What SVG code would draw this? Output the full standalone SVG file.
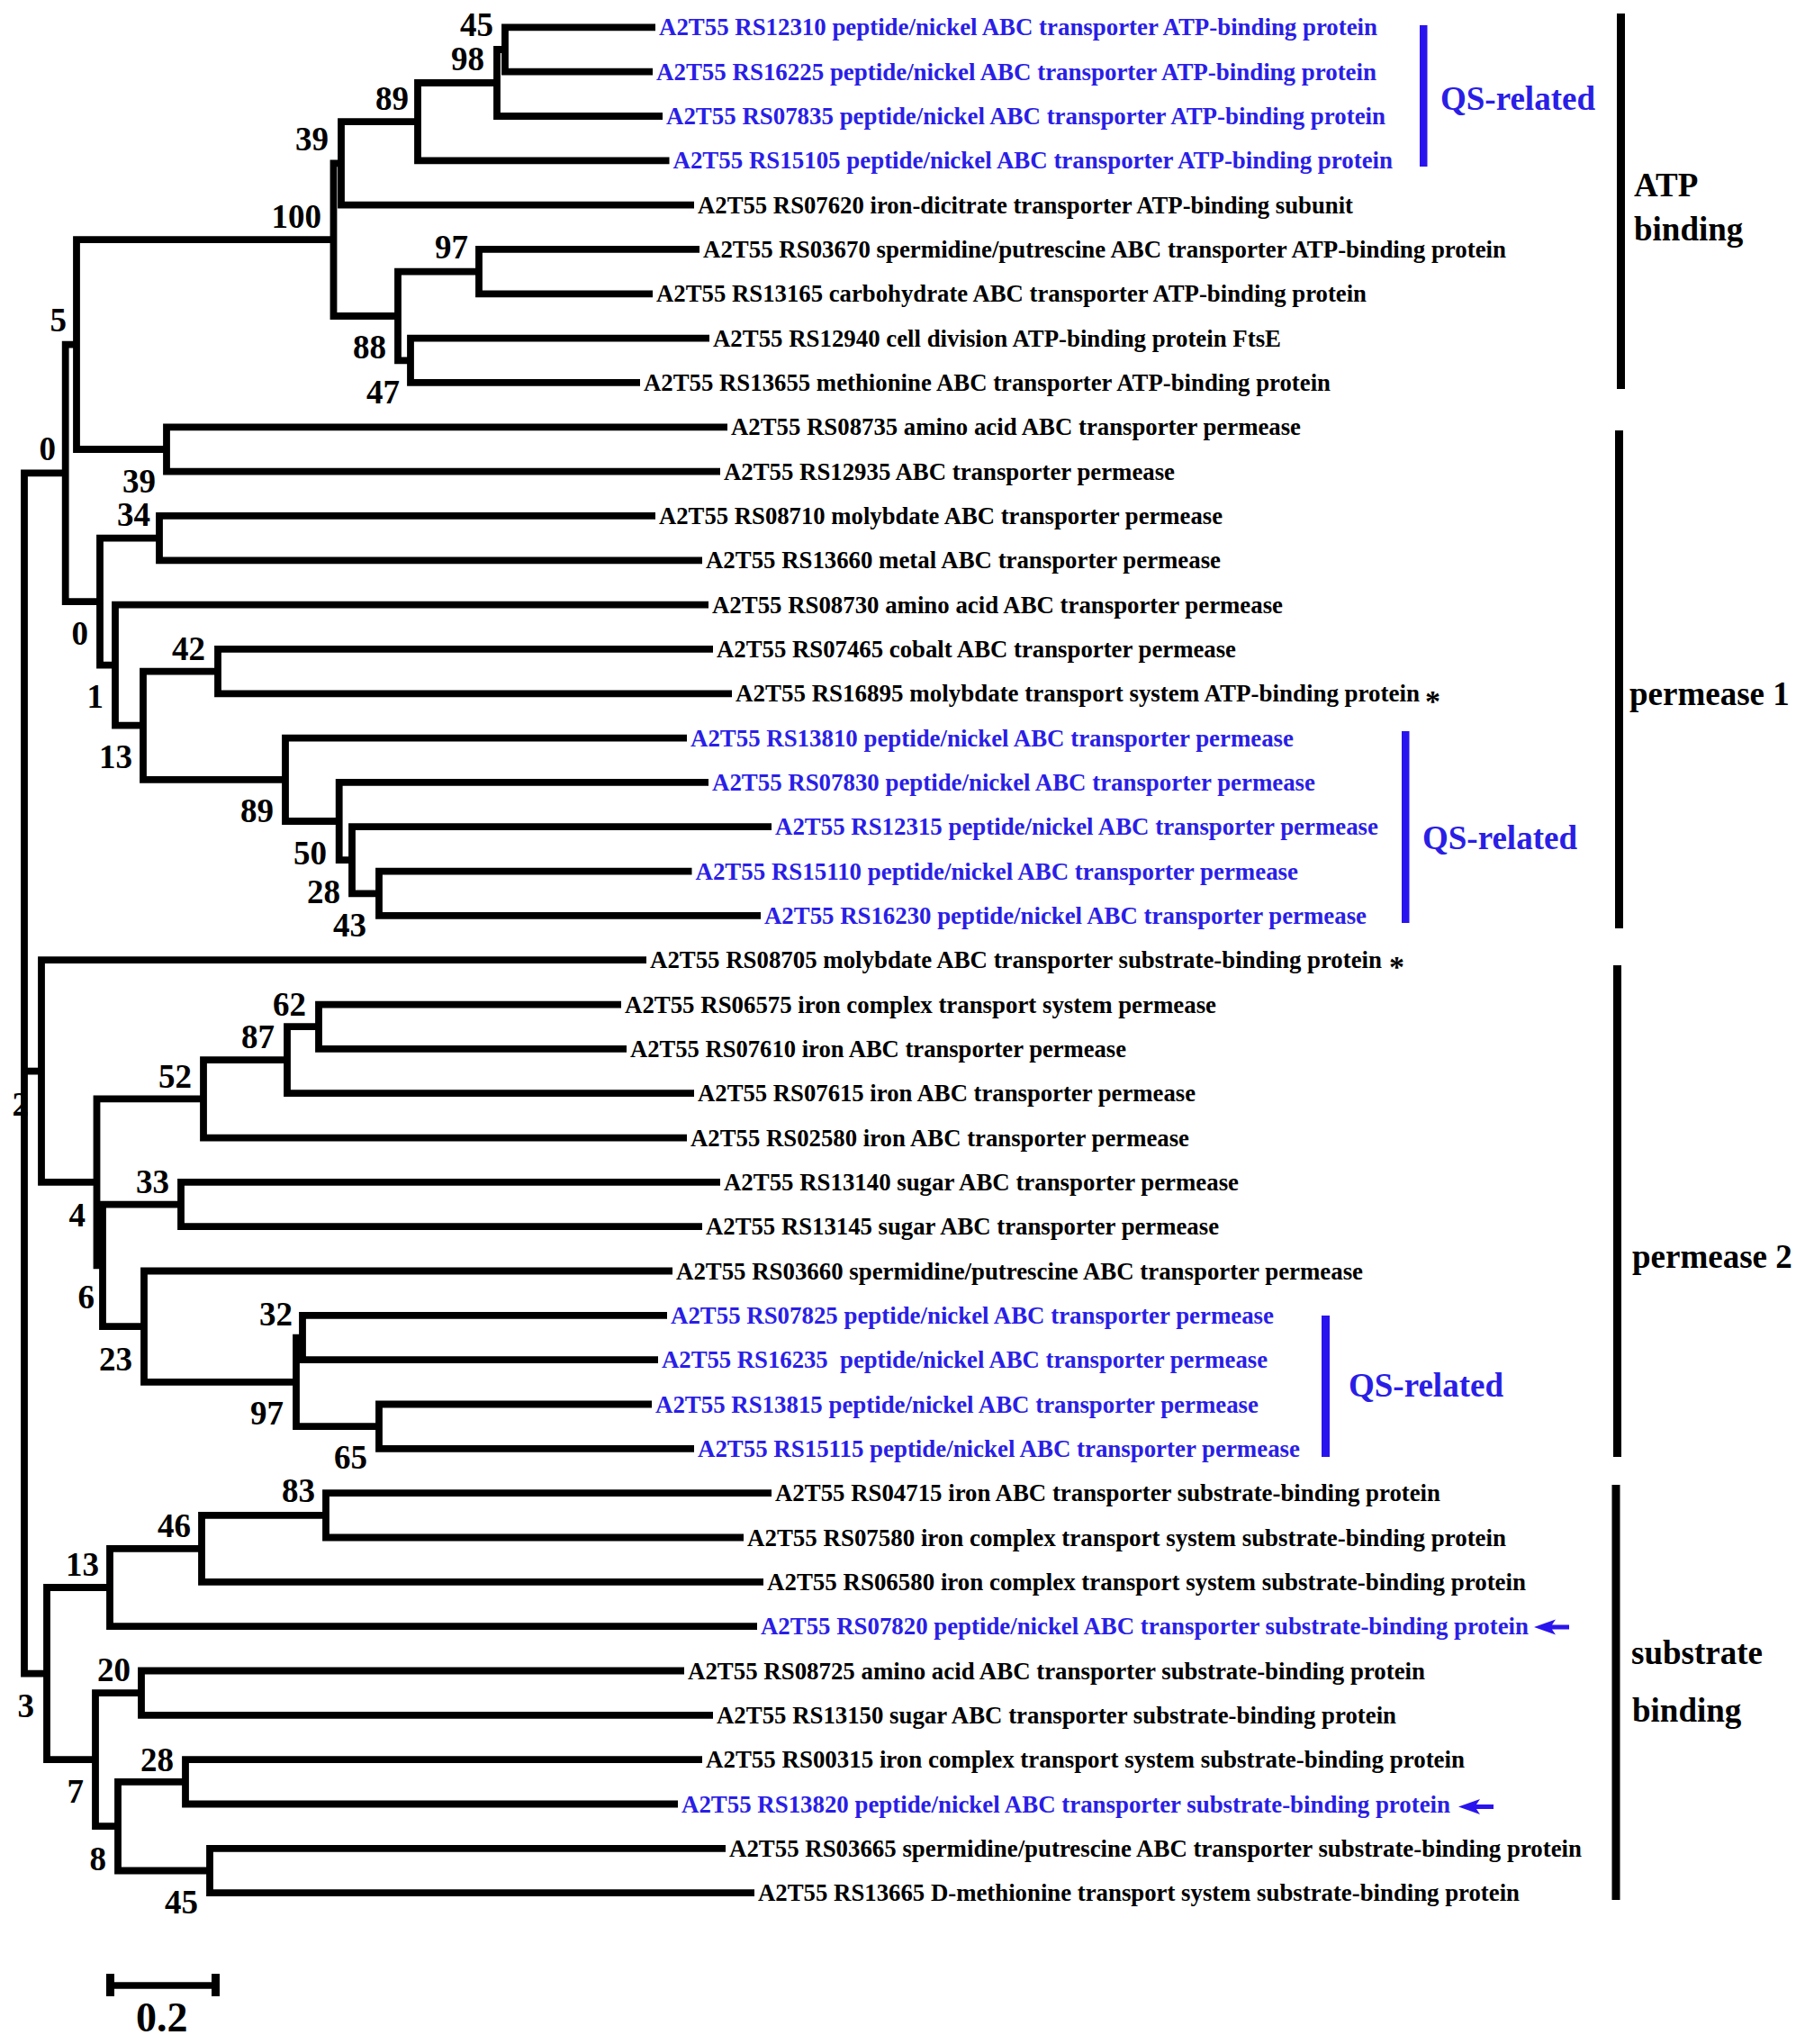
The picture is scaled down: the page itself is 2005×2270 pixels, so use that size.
<svg xmlns="http://www.w3.org/2000/svg" width="2005" height="2270" viewBox="0 0 2005 2270">
<style>
.e{fill:none;stroke:#000;stroke-width:7.8;stroke-linejoin:miter;stroke-linecap:butt}
.t{font-family:"Liberation Serif","Times New Roman",serif;font-weight:bold;font-size:27px;fill:#000}
.bl{fill:#2a1ee6}
.n{font-family:"Liberation Serif","Times New Roman",serif;font-weight:bold;font-size:37px;text-anchor:end;fill:#000}
.g{font-family:"Liberation Serif","Times New Roman",serif;font-weight:bold;font-size:37px;fill:#000}
.qs{font-family:"Liberation Serif","Times New Roman",serif;font-weight:bold;font-size:37px;fill:#2a1ee6}
.bar{fill:#000}
.qbar{fill:#2a14ee}
.ast{font-family:"Liberation Serif","Times New Roman",serif;font-weight:bold;font-size:34px;fill:#000}
</style>
<defs>
<path id="arr" d="M0,0 L24,-8.5 L20,-2.5 L39,-2.5 L39,2.5 L20,2.5 L24,8.5 Z" fill="#2a14ee"/>
</defs>
<rect x="0" y="0" width="2005" height="2270" fill="#fff"/>

<g id="root-label"><text class="n" x="32" y="1239">2</text></g>

<g id="connectors">
<path class="e" d="M72.7,525.4H27V1858.6H52"/>
<path class="e" d="M27,1189.6H46"/>
<path class="e" d="M728,30.3H561V79.6H725"/>
<path class="e" d="M561,55H552V129H736"/>
<path class="e" d="M552,92H464V178.3H743.5"/>
<path class="e" d="M464,135.1H379V227.6H771"/>
<path class="e" d="M777,276.9H532V326.3H725"/>
<path class="e" d="M788,375.6H456V424.9H711"/>
<path class="e" d="M532,301.6H442V400.3H456"/>
<path class="e" d="M379,181.4H370.5V351H442"/>
<path class="e" d="M808,474.3H185V523.6H800"/>
<path class="e" d="M370.5,266.2H85V499H185"/>
<path class="e" d="M728,572.9H177V622.3H780"/>
<path class="e" d="M792,720.9H242V770.3H813"/>
<path class="e" d="M768.5,967.6H421V1016.9H845"/>
<path class="e" d="M857,918.2H391V992.3H421"/>
<path class="e" d="M787,868.9H376.7V955.2H391"/>
<path class="e" d="M763,819.6H317V912H376.7"/>
<path class="e" d="M242,745.6H159V865.8H317"/>
<path class="e" d="M787,671.6H128V805.7H159"/>
<path class="e" d="M177,597.6H111V738.7H128"/>
<path class="e" d="M85,382.6H72.7V668.1H111"/>
<path class="e" d="M690,1115.6H354V1164.9H696"/>
<path class="e" d="M354,1140.2H319V1214.2H771"/>
<path class="e" d="M319,1177.2H226V1263.6H763"/>
<path class="e" d="M800,1312.9H201V1362.2H780"/>
<path class="e" d="M741,1460.9H336V1510.2H731"/>
<path class="e" d="M724,1559.5H421V1608.9H771"/>
<path class="e" d="M336,1485.6H329V1584.2H421"/>
<path class="e" d="M747,1411.5H160V1534.9H329"/>
<path class="e" d="M201,1337.6H114V1473.2H160"/>
<path class="e" d="M226,1220.4H107.5V1405.4H114"/>
<path class="e" d="M718,1066.2H46V1312.9H107.5"/>
<path class="e" d="M857,1658.2H362V1707.5H826"/>
<path class="e" d="M362,1682.9H224V1756.9H848"/>
<path class="e" d="M224,1719.9H122V1806.2H841"/>
<path class="e" d="M760,1855.5H157V1904.8H792"/>
<path class="e" d="M780,1954.2H206V2003.5H753"/>
<path class="e" d="M806,2052.8H233V2102.2H838"/>
<path class="e" d="M206,1978.9H131V2077.5H233"/>
<path class="e" d="M157,1880.2H106V2028.2H131"/>
<path class="e" d="M122,1763H52V1954.2H106"/>
</g>

<g id="bootstrap">
<g id="b-n45"><text class="n" x="548" y="40">45</text></g>
<g id="b-n98"><text class="n" x="538" y="78">98</text></g>
<g id="b-n89a"><text class="n" x="454" y="122">89</text></g>
<g id="b-n39a"><text class="n" x="365" y="167">39</text></g>
<g id="b-n100"><text class="n" x="357" y="253">100</text></g>
<g id="b-n97a"><text class="n" x="520" y="287">97</text></g>
<g id="b-n88"><text class="n" x="429" y="398">88</text></g>
<g id="b-n47"><text class="n" x="444" y="448">47</text></g>
<g id="b-n5"><text class="n" x="74" y="368">5</text></g>
<g id="b-n0a"><text class="n" x="62" y="511">0</text></g>
<g id="b-n39b"><text class="n" x="173" y="547">39</text></g>
<g id="b-n34"><text class="n" x="167" y="583.5">34</text></g>
<g id="b-n0b"><text class="n" x="98" y="715.5">0</text></g>
<g id="b-n42"><text class="n" x="228" y="733">42</text></g>
<g id="b-n1"><text class="n" x="115" y="786">1</text></g>
<g id="b-n13a"><text class="n" x="147" y="853">13</text></g>
<g id="b-n89b"><text class="n" x="304" y="912.6">89</text></g>
<g id="b-n50"><text class="n" x="363" y="960">50</text></g>
<g id="b-n28a"><text class="n" x="378" y="1002.6">28</text></g>
<g id="b-n43"><text class="n" x="407" y="1040">43</text></g>
<g id="b-n62"><text class="n" x="340" y="1128">62</text></g>
<g id="b-n87"><text class="n" x="305" y="1164">87</text></g>
<g id="b-n52"><text class="n" x="213" y="1208">52</text></g>
<g id="b-n33"><text class="n" x="188" y="1325">33</text></g>
<g id="b-n4"><text class="n" x="95" y="1361.5">4</text></g>
<g id="b-n6"><text class="n" x="105" y="1453">6</text></g>
<g id="b-n32"><text class="n" x="325" y="1472">32</text></g>
<g id="b-n23"><text class="n" x="147" y="1522">23</text></g>
<g id="b-n97b"><text class="n" x="315" y="1581.5">97</text></g>
<g id="b-n65"><text class="n" x="408" y="1631">65</text></g>
<g id="b-n83"><text class="n" x="350" y="1668">83</text></g>
<g id="b-n46"><text class="n" x="212" y="1707">46</text></g>
<g id="b-n13b"><text class="n" x="110" y="1750">13</text></g>
<g id="b-n20"><text class="n" x="145" y="1867">20</text></g>
<g id="b-n3"><text class="n" x="38" y="1907">3</text></g>
<g id="b-n28b"><text class="n" x="193" y="1967">28</text></g>
<g id="b-n7"><text class="n" x="93" y="2002">7</text></g>
<g id="b-n8"><text class="n" x="118" y="2077">8</text></g>
<g id="b-n45b"><text class="n" x="220" y="2125">45</text></g>
</g>

<g id="leaves">
<g id="RS12310"><text class="t bl" x="732" y="39.3" textLength="798" lengthAdjust="spacingAndGlyphs">A2T55 RS12310 peptide/nickel ABC transporter ATP-binding protein</text></g>
<g id="RS16225"><text class="t bl" x="729" y="88.6" textLength="800" lengthAdjust="spacingAndGlyphs">A2T55 RS16225 peptide/nickel ABC transporter ATP-binding protein</text></g>
<g id="RS07835"><text class="t bl" x="740" y="138" textLength="799" lengthAdjust="spacingAndGlyphs">A2T55 RS07835 peptide/nickel ABC transporter ATP-binding protein</text></g>
<g id="RS15105"><text class="t bl" x="747.5" y="187.3" textLength="799.5" lengthAdjust="spacingAndGlyphs">A2T55 RS15105 peptide/nickel ABC transporter ATP-binding protein</text></g>
<g id="RS07620"><text class="t" x="775" y="236.6" textLength="728" lengthAdjust="spacingAndGlyphs">A2T55 RS07620 iron-dicitrate transporter ATP-binding subunit</text></g>
<g id="RS03670"><text class="t" x="781" y="285.9" textLength="892" lengthAdjust="spacingAndGlyphs">A2T55 RS03670 spermidine/putrescine ABC transporter ATP-binding protein</text></g>
<g id="RS13165"><text class="t" x="729" y="335.3" textLength="789" lengthAdjust="spacingAndGlyphs">A2T55 RS13165 carbohydrate ABC transporter ATP-binding protein</text></g>
<g id="RS12940"><text class="t" x="792" y="384.6" textLength="631" lengthAdjust="spacingAndGlyphs">A2T55 RS12940 cell division ATP-binding protein FtsE</text></g>
<g id="RS13655"><text class="t" x="715" y="433.9" textLength="763" lengthAdjust="spacingAndGlyphs">A2T55 RS13655 methionine ABC transporter ATP-binding protein</text></g>
<g id="RS08735"><text class="t" x="812" y="483.3" textLength="633" lengthAdjust="spacingAndGlyphs">A2T55 RS08735 amino acid ABC transporter permease</text></g>
<g id="RS12935"><text class="t" x="804" y="532.6" textLength="501" lengthAdjust="spacingAndGlyphs">A2T55 RS12935 ABC transporter permease</text></g>
<g id="RS08710"><text class="t" x="732" y="581.9" textLength="626" lengthAdjust="spacingAndGlyphs">A2T55 RS08710 molybdate ABC transporter permease</text></g>
<g id="RS13660"><text class="t" x="784" y="631.3" textLength="572" lengthAdjust="spacingAndGlyphs">A2T55 RS13660 metal ABC transporter permease</text></g>
<g id="RS08730"><text class="t" x="791" y="680.6" textLength="634" lengthAdjust="spacingAndGlyphs">A2T55 RS08730 amino acid ABC transporter permease</text></g>
<g id="RS07465"><text class="t" x="796" y="729.9" textLength="577" lengthAdjust="spacingAndGlyphs">A2T55 RS07465 cobalt ABC transporter permease</text></g>
<g id="RS16895"><text class="t" x="817" y="779.3" textLength="760" lengthAdjust="spacingAndGlyphs">A2T55 RS16895 molybdate transport system ATP-binding protein</text><text class="ast" x="1583" y="790">*</text></g>
<g id="RS13810"><text class="t bl" x="767" y="828.6" textLength="670" lengthAdjust="spacingAndGlyphs">A2T55 RS13810 peptide/nickel ABC transporter permease</text></g>
<g id="RS07830"><text class="t bl" x="791" y="877.9" textLength="670" lengthAdjust="spacingAndGlyphs">A2T55 RS07830 peptide/nickel ABC transporter permease</text></g>
<g id="RS12315"><text class="t bl" x="861" y="927.2" textLength="670" lengthAdjust="spacingAndGlyphs">A2T55 RS12315 peptide/nickel ABC transporter permease</text></g>
<g id="RS15110"><text class="t bl" x="772.5" y="976.6" textLength="669.5" lengthAdjust="spacingAndGlyphs">A2T55 RS15110 peptide/nickel ABC transporter permease</text></g>
<g id="RS16230"><text class="t bl" x="849" y="1025.9" textLength="669" lengthAdjust="spacingAndGlyphs">A2T55 RS16230 peptide/nickel ABC transporter permease</text></g>
<g id="RS08705"><text class="t" x="722" y="1075.2" textLength="813" lengthAdjust="spacingAndGlyphs">A2T55 RS08705 molybdate ABC transporter substrate-binding protein</text><text class="ast" x="1543" y="1084.5">*</text></g>
<g id="RS06575"><text class="t" x="694" y="1124.6" textLength="657" lengthAdjust="spacingAndGlyphs">A2T55 RS06575 iron complex transport system permease</text></g>
<g id="RS07610"><text class="t" x="700" y="1173.9" textLength="551" lengthAdjust="spacingAndGlyphs">A2T55 RS07610 iron ABC transporter permease</text></g>
<g id="RS07615"><text class="t" x="775" y="1223.2" textLength="553" lengthAdjust="spacingAndGlyphs">A2T55 RS07615 iron ABC transporter permease</text></g>
<g id="RS02580"><text class="t" x="767" y="1272.6" textLength="554" lengthAdjust="spacingAndGlyphs">A2T55 RS02580 iron ABC transporter permease</text></g>
<g id="RS13140"><text class="t" x="804" y="1321.9" textLength="572" lengthAdjust="spacingAndGlyphs">A2T55 RS13140 sugar ABC transporter permease</text></g>
<g id="RS13145"><text class="t" x="784" y="1371.2" textLength="570" lengthAdjust="spacingAndGlyphs">A2T55 RS13145 sugar ABC transporter permease</text></g>
<g id="RS03660"><text class="t" x="751" y="1420.5" textLength="763" lengthAdjust="spacingAndGlyphs">A2T55 RS03660 spermidine/putrescine ABC transporter permease</text></g>
<g id="RS07825"><text class="t bl" x="745" y="1469.9" textLength="670" lengthAdjust="spacingAndGlyphs">A2T55 RS07825 peptide/nickel ABC transporter permease</text></g>
<g id="RS16235"><text class="t bl" x="735" y="1519.2" textLength="673" lengthAdjust="spacingAndGlyphs" xml:space="preserve">A2T55 RS16235  peptide/nickel ABC transporter permease</text></g>
<g id="RS13815"><text class="t bl" x="728" y="1568.5" textLength="670" lengthAdjust="spacingAndGlyphs">A2T55 RS13815 peptide/nickel ABC transporter permease</text></g>
<g id="RS15115"><text class="t bl" x="775" y="1617.9" textLength="669" lengthAdjust="spacingAndGlyphs">A2T55 RS15115 peptide/nickel ABC transporter permease</text></g>
<g id="RS04715"><text class="t" x="861" y="1667.2" textLength="739" lengthAdjust="spacingAndGlyphs">A2T55 RS04715 iron ABC transporter substrate-binding protein</text></g>
<g id="RS07580"><text class="t" x="830" y="1716.5" textLength="843" lengthAdjust="spacingAndGlyphs">A2T55 RS07580 iron complex transport system substrate-binding protein</text></g>
<g id="RS06580"><text class="t" x="852" y="1765.9" textLength="843" lengthAdjust="spacingAndGlyphs">A2T55 RS06580 iron complex transport system substrate-binding protein</text></g>
<g id="RS07820"><text class="t bl" x="845" y="1815.2" textLength="853" lengthAdjust="spacingAndGlyphs">A2T55 RS07820 peptide/nickel ABC transporter substrate-binding protein</text><use href="#arr" x="1704" y="1807"/></g>
<g id="RS08725"><text class="t" x="764" y="1864.5" textLength="819" lengthAdjust="spacingAndGlyphs">A2T55 RS08725 amino acid ABC transporter substrate-binding protein</text></g>
<g id="RS13150"><text class="t" x="796" y="1913.8" textLength="755" lengthAdjust="spacingAndGlyphs">A2T55 RS13150 sugar ABC transporter substrate-binding protein</text></g>
<g id="RS00315"><text class="t" x="784" y="1963.2" textLength="843" lengthAdjust="spacingAndGlyphs">A2T55 RS00315 iron complex transport system substrate-binding protein</text></g>
<g id="RS13820"><text class="t bl" x="757" y="2012.5" textLength="854" lengthAdjust="spacingAndGlyphs">A2T55 RS13820 peptide/nickel ABC transporter substrate-binding protein</text><use href="#arr" x="1620" y="2006.5"/></g>
<g id="RS03665"><text class="t" x="810" y="2061.8" textLength="947" lengthAdjust="spacingAndGlyphs">A2T55 RS03665 spermidine/putrescine ABC transporter substrate-binding protein</text></g>
<g id="RS13665"><text class="t" x="842" y="2111.2" textLength="846" lengthAdjust="spacingAndGlyphs">A2T55 RS13665 D-methionine transport system substrate-binding protein</text></g>
</g>

<g id="qs-groups">
<g id="qs1"><rect class="qbar" x="1577" y="28" width="8.5" height="157"/><text class="qs" x="1600" y="122">QS-related</text></g>
<g id="qs2"><rect class="qbar" x="1557" y="812" width="8.5" height="213"/><text class="qs" x="1580" y="943">QS-related</text></g>
<g id="qs3"><rect class="qbar" x="1468" y="1461" width="9" height="157"/><text class="qs" x="1498" y="1551">QS-related</text></g>
</g>

<g id="classes">
<g id="atp-binding"><rect class="bar" x="1796" y="15" width="9" height="417"/><text class="g" x="1815" y="218">ATP</text><text class="g" x="1815" y="267">binding</text></g>
<g id="permease-1"><rect class="bar" x="1794" y="478" width="9" height="553"/><text class="g" x="1810" y="783">permease 1</text></g>
<g id="permease-2"><rect class="bar" x="1792" y="1072" width="9" height="546"/><text class="g" x="1813" y="1408">permease 2</text></g>
<g id="substrate-binding"><rect class="bar" x="1790.5" y="1649" width="9" height="461"/><text class="g" x="1812" y="1848">substrate</text><text class="g" x="1813" y="1912">binding</text></g>
</g>

<g id="scale-bar">
<path d="M122,2205H240" stroke="#000" stroke-width="7.5" fill="none"/>
<rect x="118" y="2192" width="9" height="25" fill="#000"/>
<rect x="235" y="2192" width="9" height="25" fill="#000"/>
<text class="g" x="151" y="2256" style="font-size:46px">0.2</text>
</g>
</svg>
